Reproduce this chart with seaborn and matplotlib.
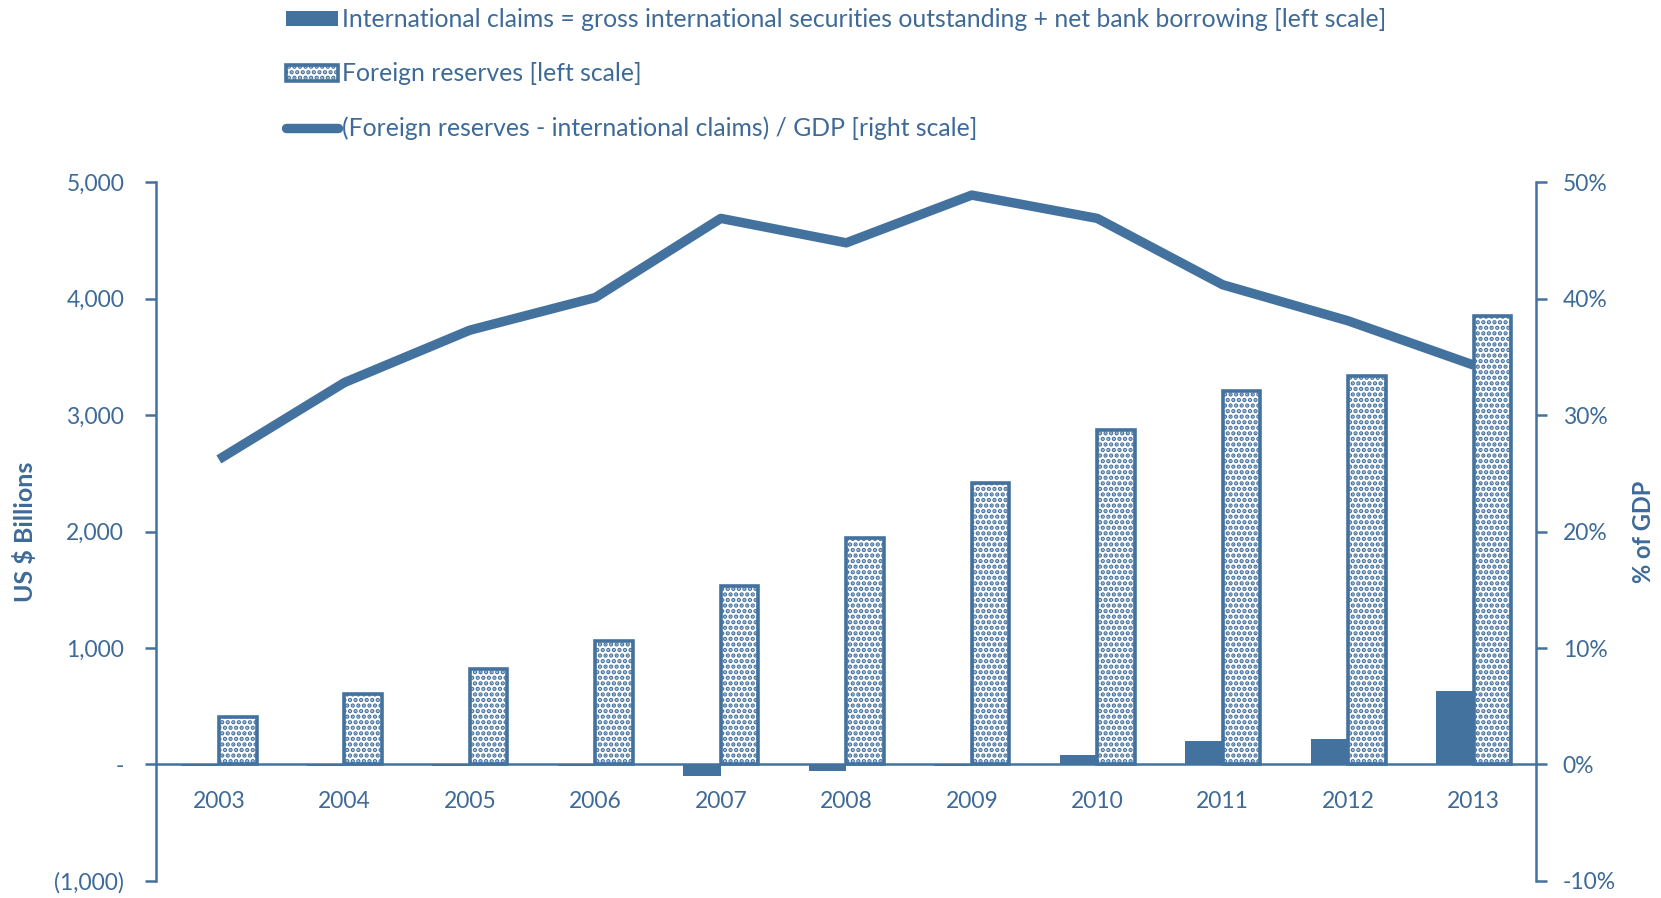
import numpy as np
import pandas as pd
import matplotlib
matplotlib.use("Agg")
import matplotlib.pyplot as plt
import seaborn as sns
from matplotlib.ticker import FuncFormatter, FixedLocator
from matplotlib.patches import Patch
from matplotlib.lines import Line2D

sns.set_theme(style="white")
plt.rcParams["font.family"] = ["Lato", "DejaVu Sans"]
plt.rcParams["hatch.linewidth"] = 2.2

BLUE = "#44729F"
TXT = "#3E6A98"

years = ["2003", "2004", "2005", "2006", "2007", "2008", "2009", "2010", "2011", "2012", "2013"]
claims = [-15, -15, -15, -15, -100, -55, -12, 82, 200, 218, 627]
reserves = [409, 609, 818, 1064, 1536, 1945, 2418, 2873, 3209, 3336, 3855]
gap_pct = [26.2, 32.8, 37.3, 40.1, 46.9, 44.8, 48.9, 46.9, 41.2, 38.1, 34.3]

lab_claims = "International claims = gross international securities outstanding + net bank borrowing [left scale]"
lab_res = "Foreign reserves [left scale]"
lab_gap = "(Foreign reserves - international claims) / GDP [right scale]"

df = pd.DataFrame({
    "year": years * 2,
    "value": claims + reserves,
    "series": ["claims"] * len(years) + ["reserves"] * len(years),
})

fig = plt.figure(figsize=(16.61, 8.98), dpi=100)
ax = fig.add_axes([0.094, 0.019, 0.831, 0.778])

sns.barplot(data=df, x="year", y="value", hue="series", order=years,
            hue_order=["claims", "reserves"], palette=[BLUE, "white"],
            width=0.6, saturation=1, legend=False, ax=ax)

for p in ax.containers[0]:
    p.set_edgecolor("none")
for p in ax.containers[1]:
    p.set_facecolor("white")
    p.set_edgecolor(BLUE)
    p.set_hatch("...")
    p.set_linewidth(2.6)

ax.set_xlim(-0.5, len(years) - 0.5)
ax.set_ylim(-1000, 5000)
ax.set_yticks(np.arange(-1000, 5001, 1000))

def fmt_left(v, pos):
    if v == 0:
        return "-"
    if v < 0:
        return "({:,.0f})".format(-v)
    return "{:,.0f}".format(v)

ax.yaxis.set_major_formatter(FuncFormatter(fmt_left))

for s in ["top", "right"]:
    ax.spines[s].set_visible(False)
ax.spines["bottom"].set_position(("data", 0))
ax.spines["bottom"].set_color(BLUE)
ax.spines["bottom"].set_linewidth(1.8)
ax.spines["left"].set_color(BLUE)
ax.spines["left"].set_linewidth(1.8)

ax.xaxis.set_minor_locator(FixedLocator(np.arange(0.5, len(years) - 1, 1)))
ax.tick_params(axis="x", which="major", length=0, pad=19, labelsize=16.5, labelcolor=TXT)
ax.tick_params(axis="x", which="minor", length=8, width=1.8, color=BLUE, direction="out")
ax.tick_params(axis="y", length=8, width=1.8, color=BLUE, direction="out", pad=15,
               labelsize=16.5, labelcolor=TXT, left=True)
ax.set_xlabel("")
ax.set_ylabel("US $ Billions", fontsize=18, fontweight="bold", color=TXT)
ax.yaxis.set_label_coords(-0.086, 0.5)

ax2 = ax.twinx()
sns.lineplot(x=np.arange(len(years)), y=gap_pct, ax=ax2, color=BLUE, linewidth=6.8,
             solid_capstyle="butt")
ax2.set_ylim(-10, 50)
ax2.set_yticks(np.arange(-10, 51, 10))
ax2.yaxis.set_major_formatter(FuncFormatter(lambda v, p: "{:.0f}%".format(v)))
for s in ["top", "left", "bottom"]:
    ax2.spines[s].set_visible(False)
ax2.spines["right"].set_color(BLUE)
ax2.spines["right"].set_linewidth(1.8)
ax2.tick_params(axis="y", length=8, width=1.8, color=BLUE, direction="out", pad=11,
                labelsize=16.5, labelcolor=TXT, right=True)
ax2.set_ylabel("% of GDP", fontsize=17, fontweight="bold", color=TXT, rotation=90)
ax2.yaxis.set_label_coords(1.069, 0.5)
ax2.set_xlim(-0.5, len(years) - 0.5)
ax2.grid(False)
ax.grid(False)

handles = [
    Patch(facecolor=BLUE, edgecolor="none"),
    Patch(facecolor="white", edgecolor=BLUE, hatch="...", linewidth=2.6),
    Line2D([0], [0], color=BLUE, linewidth=6.8, solid_capstyle="round"),
]
fig.legend(handles, [lab_claims, lab_res, lab_gap], loc="upper left",
           bbox_to_anchor=(0.166, 1.002), frameon=False, fontsize=17.8,
           labelcolor=TXT, labelspacing=1.27, handlelength=2.1, handleheight=0.6,
           handletextpad=0.2, borderaxespad=0.0)

fig.savefig("out.png", dpi=100)
